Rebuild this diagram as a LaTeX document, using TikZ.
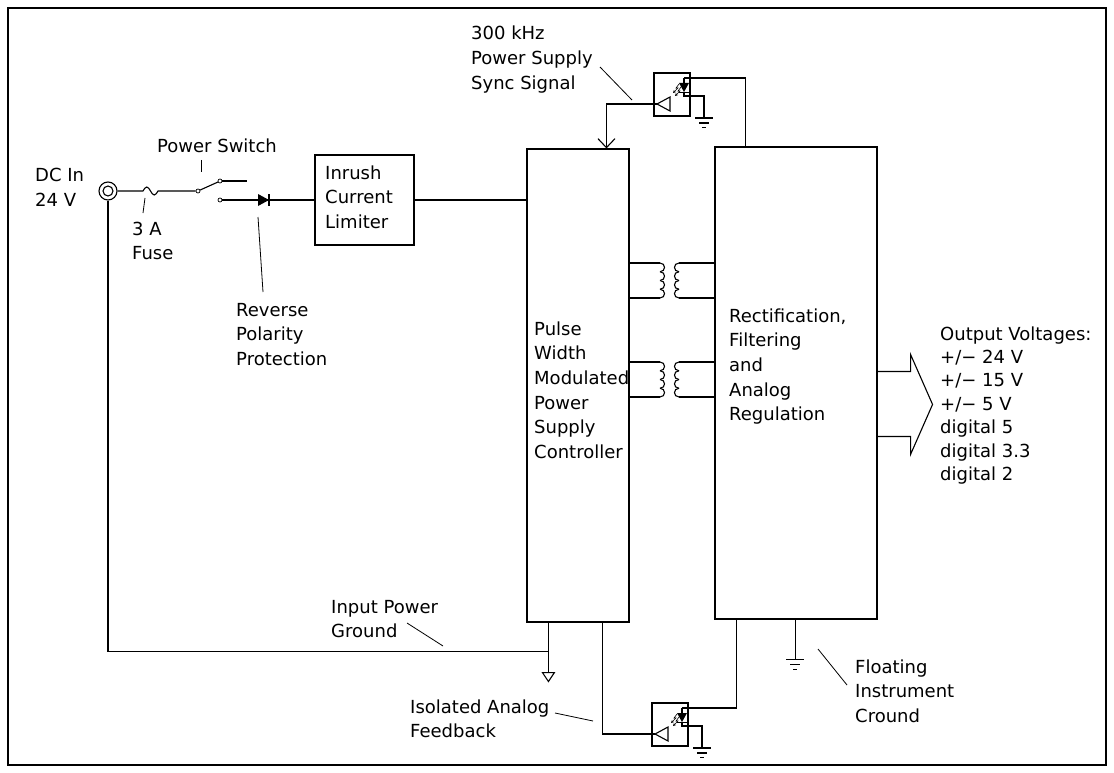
\documentclass[tikz,border=0pt]{standalone}
\usepackage{fontspec}
\setmainfont{DejaVu Sans}
\usetikzlibrary{arrows.meta,calc}

\tikzset{
  wire/.style={line width=1.1pt},
  lead/.style={line width=.8pt},
  blk/.style={draw, line width=1.1pt, inner sep=0pt},
  txt/.style={anchor=base west, align=left, inner sep=0pt, font=\fontsize{18}{24.7}\selectfont},
  contact/.style={circle, draw, fill=white, line width=.7pt, inner sep=0pt, minimum size=4},
  pics/earth/.style={code={
    \draw[wire] (-9,0) -- (9,0);
    \draw[wire] (-5,5) -- (5,5);
    \draw[wire] (-2,9.5) -- (2,9.5);
  }},
  pics/opto/.style={code={
    \draw[wire] (0,0) rectangle (36,43);
    % receiver
    \draw[wire] (3,31) -- (16,24) -- (16,38) -- cycle;
    % led
    \fill (25,10) -- (35,10) -- (30,19) -- cycle;
    \draw[wire] (25,19.5) -- (35,19.5);
    \draw[wire] (30,5) -- (30,10) (30,19) -- (30,23) -- (50,23) -- (50,45);
    \draw[wire] (41,45) -- (59,45);
    \draw[wire] (45,50) -- (55,50);
    \draw[wire] (48,54.5) -- (52,54.5);
    % light
    \draw[line width=.6pt, -{Stealth[length=3pt,width=3pt]}] (25,11) -- (22,15) -- (24,15) -- (19,20);
    \draw[line width=.6pt, -{Stealth[length=3pt,width=3pt]}] (27,14) -- (24,18) -- (26,18) -- (21,23);
    \coordinate (-in) at (3,31);
    \coordinate (-led) at (30,5);
  }},
  pics/xfmr/.style={code={
    \draw[wire] (0,0) -- (30,0) (0,35) -- (30,35) (49,0) -- (85,0) (49,35) -- (85,35);
    \foreach \k in {0,...,3} {
      \draw[wire] (30,{\k*8.75}) .. controls (36,{\k*8.75}) and (36,{\k*8.75+8.75}) .. (30,{\k*8.75+8.75});
      \draw[wire] (49,{\k*8.75}) .. controls (43,{\k*8.75}) and (43,{\k*8.75+8.75}) .. (49,{\k*8.75+8.75});
    }
  }}
}

\begin{document}
\begin{tikzpicture}[x=1pt, y=-1pt]
\useasboundingbox (0,0) rectangle (1114,773);
\draw[line width=1.5pt] (8,8) rectangle (1106,765);

% blocks
\node[blk, minimum width=99, minimum height=90] (inrush) at (364.5,200) {};
\node[blk, minimum width=102, minimum height=473] (pwm) at (578,385.5) {};
\node[blk, minimum width=162, minimum height=472] (rect) at (796,383) {};

% (text nodes sit on the baseline of their last line)
\node[txt] (tinrush) at (325,228.4) {Inrush\\Current\\Limiter};
\node[txt] (tpwm) at (534,458.5) {Pulse\\Width\\Modulated\\Power\\Supply\\Controller};
\node[txt] (trect) at (729,420.8) {Rectification,\\Filtering\\and\\Analog\\Regulation};

% input side
\node[circle, draw, line width=1.1pt, minimum size=18, inner sep=0pt] (jack) at (108,191) {};
\draw[wire] (jack.center) circle[radius=5];
\node[txt] (tdc) at (35,206.7) {DC In\\24 V};

\coordinate (fuse) at (143,191);
\node[contact] (swp) at (198,191) {};
\node[contact] (swa) at (220,181) {};
\node[contact] (swb) at (220,200) {};
\coordinate (dio) at (258,200);

\draw[wire] (jack.east) -- (fuse) sin ++(3.75,-4) cos ++(3.75,4) sin ++(3.75,4) cos ++(3.75,-4) -- (swp);
\draw[wire] (swp) -- (218,182);
\draw[wire] (swa) -- ++(27,0);
\draw[wire] (swb) -- (inrush.west);
\fill (dio) ++(0,-6) -- ++(11,6) -- ++(-11,6) -- cycle;
\draw[wire] ($(dio)+(11,-6)$) -- ++(0,12);
\draw[wire] (inrush.east) -- (inrush.east -| pwm.west);

\node[txt] (tsw) at (157,153) {Power Switch};
\draw[lead] ($(tsw.base west)+(44,7)$) -- ++(0,12);
\node[txt] (tfuse) at (132,259.7) {3 A\\Fuse};
\draw[lead] ($(tfuse.base west)+(13,-61.7)$) -- ++(-2,15);
\node[txt] (trev) at (236,365.4) {Reverse\\Polarity\\Protection};
\draw[lead] ($(dio)+(0,17)$) -- ++(5,75);

% transformers
\pic at (630,263) {xfmr};
\pic at (630,362) {xfmr};

% sync opto
\pic (ot) at (654,73) {opto};
\coordinate (sync) at ($(pwm.north west)+(80,0)$);
\draw[wire, -{Straight Barb[length=9pt,width=17pt]}] (ot-in) -| (sync);
\draw[wire] (ot-led) -| ($(rect.north west)+(31,0)$);
\node[txt] (tsync) at (471,89.4) {300 kHz\\Power Supply\\Sync Signal};
\draw[lead] ($(tsync.base west)+(129,-22.4)$) -- ++(32,33);

% feedback opto
\pic (ob) at (652,703) {opto};
\draw[wire] ($(pwm.south west)+(76,0)$) |- (ob-in);
\draw[wire] (ob-led) -| ($(rect.south west)+(22,0)$);
\node[txt] (tfb) at (410,737.7) {Isolated Analog\\Feedback};
\draw[lead] ($(tfb.base west)+(145,-24.7)$) -- ++(38,8);

% input ground
\coordinate (gnd) at ($(pwm.south west)+(22,29)$);
\draw[wire] (jack.south) |- (gnd);
\draw[wire] (pwm.south west -| gnd) -- ++(0,50);
\draw[wire] ($(gnd)+(-6,21)$) -- ++(12,0) -- ++(-6,9) -- cycle;
\node[txt] (tgnd) at (331,637.7) {Input Power\\Ground};
\draw[lead] ($(tgnd.base west)+(76,-14.7)$) -- ++(36,23);

% floating ground
\draw[wire] ($(rect.south west)+(81,0)$) -- ++(0,40) coordinate (fg);
\pic at (fg) {earth};
\node[txt] (tfl) at (855,722.4) {Floating\\Instrument\\Cround};
\draw[lead] ($(tfl.base west)+(-37,-73.4)$) -- ++(29,36);

% outputs
\path (rect.north east) ++(0,225) coordinate (o1) ++(0,65) coordinate (o2);
\draw[wire] (o1) -- ++(33,0) -- ++(0,-17) -- ++(22,50) -- ++(-22,50) -- ++(0,-18) -- (o2);
\node[txt, font=\fontsize{18}{23.4}\selectfont] (tout) at (940,480.4) {Output Voltages:\\+/− 24 V\\+/− 15 V\\+/− 5 V\\digital 5\\digital 3.3\\digital 2};
\end{tikzpicture}
\end{document}
